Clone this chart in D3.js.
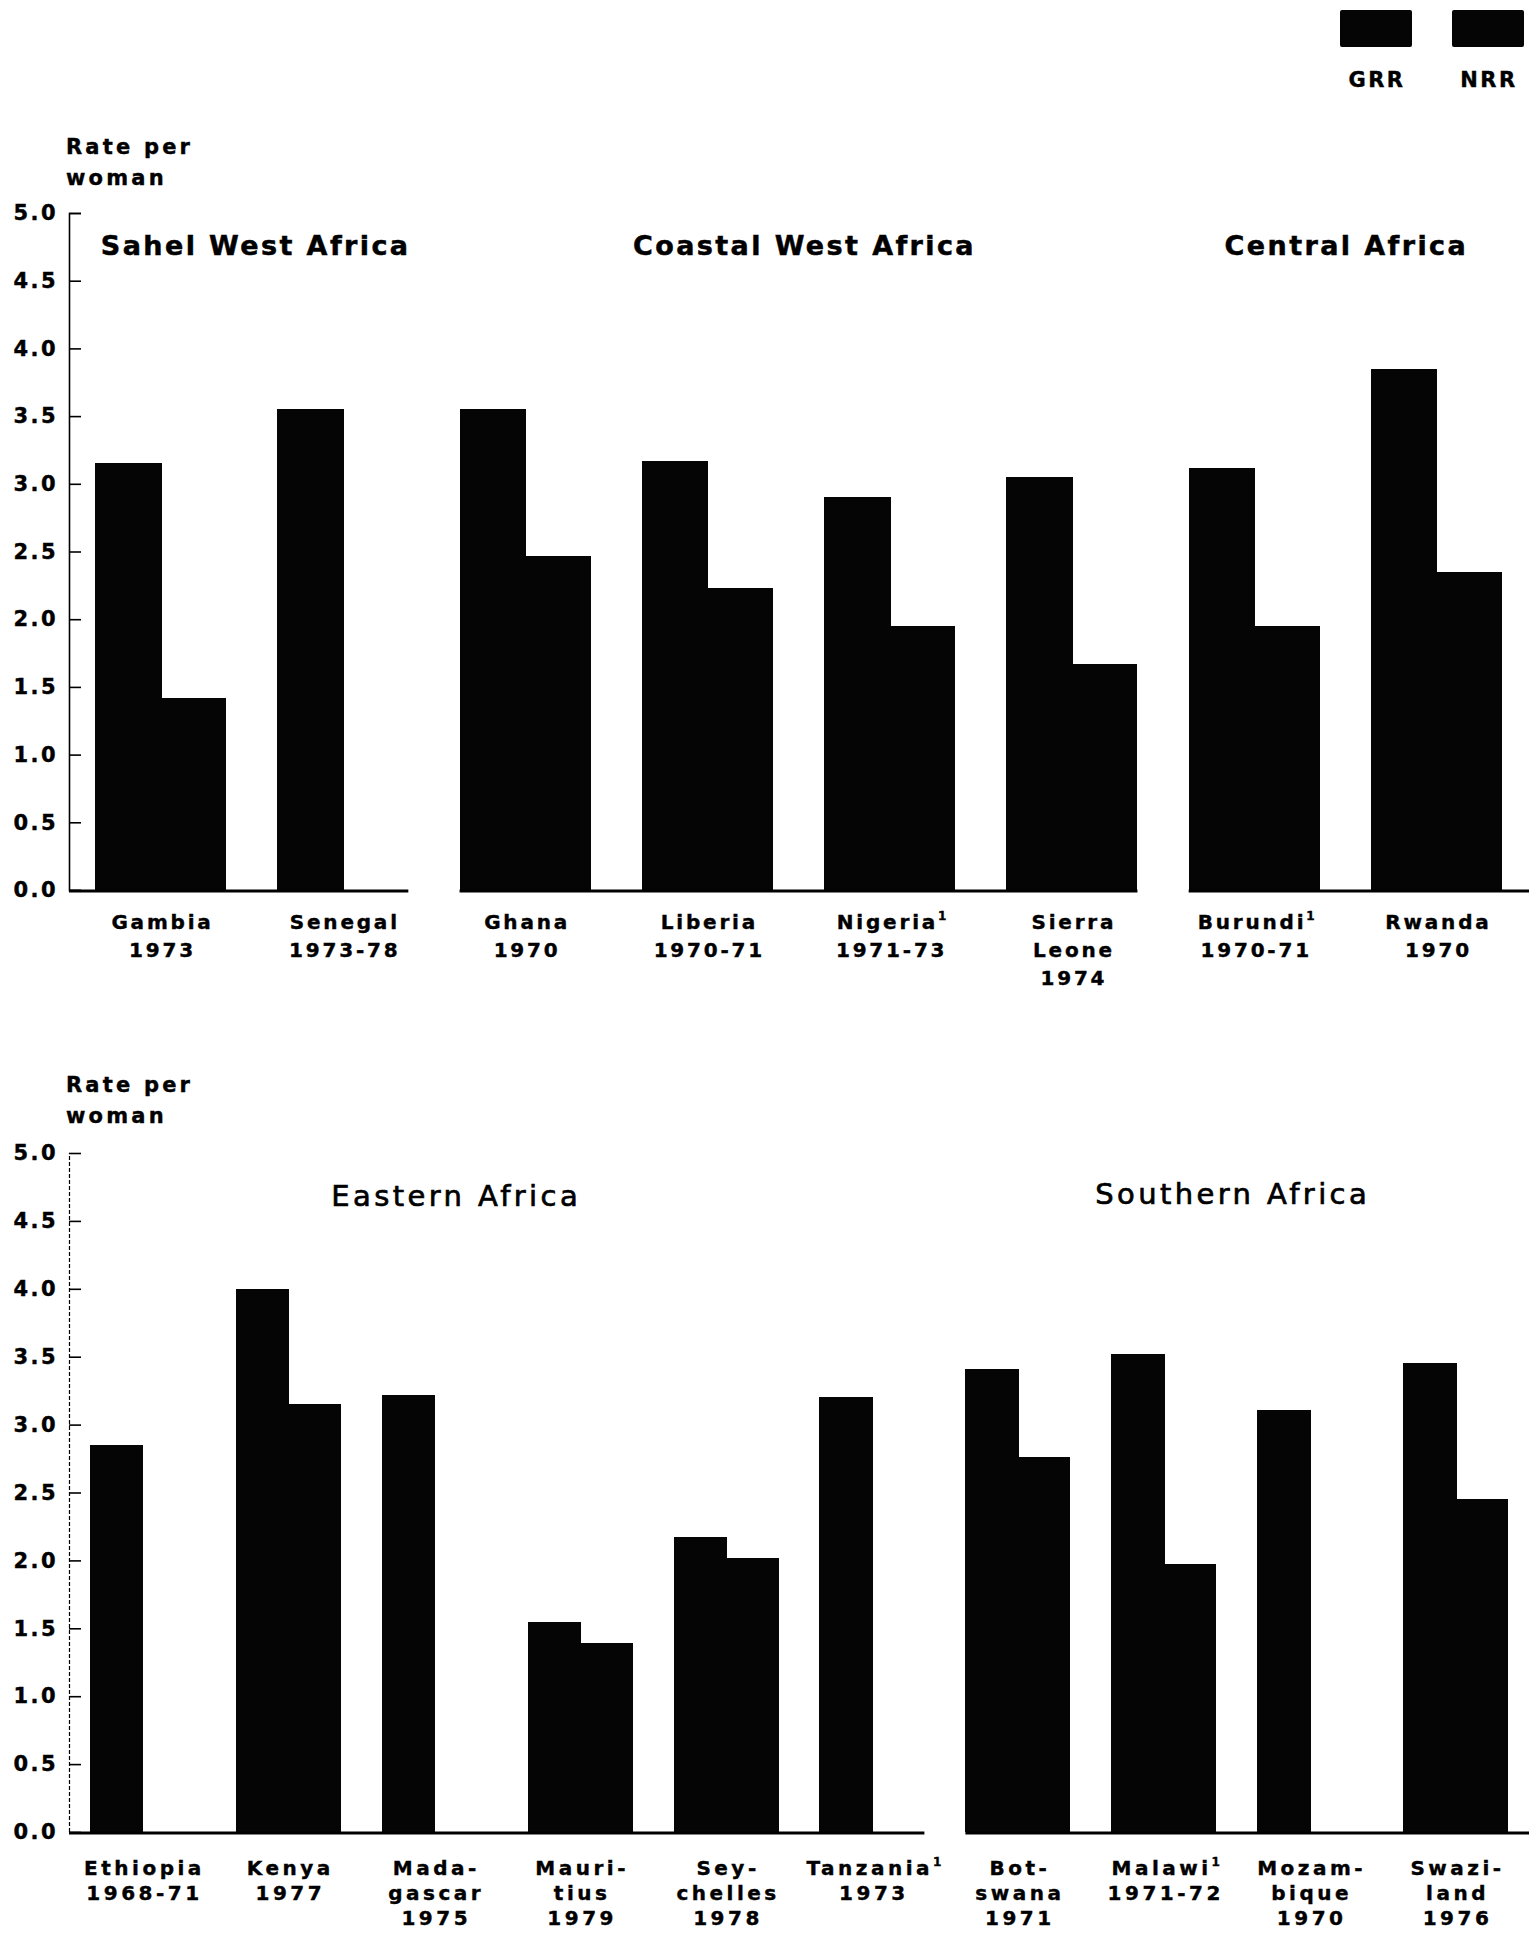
<!DOCTYPE html>
<html>
<head>
<meta charset="utf-8">
<script src="https://cdn.jsdelivr.net/npm/d3@7"></script>
<style>
  html, body { margin: 0; padding: 0; background: #fff; }
  svg { display: block; }
  text { font-family: "DejaVu Sans", "Liberation Sans", sans-serif; fill: #000; }
</style>
</head>
<body>
<svg id="chart" width="1531" height="1933"></svg>
<script>
// Gross (GRR) and net (NRR) reproduction rates, rate per woman

// ---- upper panel: West and Central Africa ----
const topCountries = ["Gambia", "Senegal", "Ghana", "Liberia", "Nigeria", "Sierra Leone", "Burundi", "Rwanda"];
const topLabels = [
  ["Gambia", "1973"], ["Senegal", "1973-78"], ["Ghana", "1970"], ["Liberia", "1970-71"],
  ["Nigeria¹", "1971-73"], ["Sierra", "Leone", "1974"], ["Burundi¹", "1970-71"], ["Rwanda", "1970"]
];
const topGRR = [3.15, 3.55, 3.55, 3.17, 2.90, 3.05, 3.12, 3.85];
const topNRR = [1.42, 0.00, 2.47, 2.23, 1.95, 1.67, 1.95, 2.35];
const topRegions = ["Sahel West Africa", "Coastal West Africa", "Central Africa"];
const topRegionMembers = [
  ["Gambia", "Senegal"],
  ["Ghana", "Liberia", "Nigeria", "Sierra Leone"],
  ["Burundi", "Rwanda"]
];

// ---- lower panel: Eastern and Southern Africa ----
const bottomCountries = ["Ethiopia", "Kenya", "Madagascar", "Mauritius", "Seychelles", "Tanzania",
                         "Botswana", "Malawi", "Mozambique", "Swaziland"];
const bottomLabels = [
  ["Ethiopia", "1968-71"], ["Kenya", "1977"], ["Mada-", "gascar", "1975"], ["Mauri-", "tius", "1979"],
  ["Sey-", "chelles", "1978"], ["Tanzania¹", "1973"], ["Bot-", "swana", "1971"], ["Malawi¹", "1971-72"],
  ["Mozam-", "bique", "1970"], ["Swazi-", "land", "1976"]
];
const bottomGRR = [2.85, 4.00, 3.22, 1.55, 2.17, 3.20, 3.41, 3.52, 3.11, 3.45];
const bottomNRR = [0.00, 3.15, 0.00, 1.39, 2.02, 0.00, 2.76, 1.97, 0.00, 2.45];
const bottomRegions = ["Eastern Africa", "Southern Africa"];
const bottomRegionMembers = [
  ["Ethiopia", "Kenya", "Madagascar", "Mauritius", "Seychelles", "Tanzania"],
  ["Botswana", "Malawi", "Mozambique", "Swaziland"]
];

const seriesKeys = ["GRR", "NRR"];
const yTicks = [0, 0.5, 1, 1.5, 2, 2.5, 3, 3.5, 4, 4.5, 5];
const yAxisTitle = ["Rate per", "woman"];

const svg = d3.select("#chart");

function drawPanel(cfg) {
  const g = svg.append("g");
  const y = d3.scaleLinear().domain([0, 5]).range([cfg.y0, cfg.y5]);
  const x = d3.scaleBand().domain(cfg.countries).range(cfg.xRange)
    .paddingInner(0.281).paddingOuter(0);
  const xs = d3.scaleBand().domain(seriesKeys).range([0, x.bandwidth()]).padding(0);

  // y-axis title
  g.append("g").selectAll("text").data(yAxisTitle).join("text")
    .attr("x", 66).attr("y", (d, i) => cfg.titleY + i * 31)
    .attr("font-size", 21).attr("font-weight", "bold").attr("letter-spacing", 3.2)
    .attr("stroke", "#000").attr("stroke-width", 0.4)
    .text(d => d);

  // y axis with inward ticks
  const axis = g.append("g").attr("transform", `translate(${cfg.axisX},0)`)
    .call(d3.axisLeft(y).tickValues(yTicks).tickSize(-12).tickPadding(11)
      .tickFormat(d3.format(".1f")));
  axis.select(".domain").attr("stroke", "#000").attr("stroke-width", cfg.axisWidth)
    .attr("stroke-dasharray", cfg.axisDash);
  axis.selectAll(".tick line").attr("stroke", "#000").attr("stroke-width", 1.6);
  axis.selectAll(".tick text")
    .attr("font-family", "DejaVu Sans, sans-serif")
    .attr("font-size", 21).attr("font-weight", "bold").attr("letter-spacing", 2.4)
    .attr("stroke", "#000").attr("stroke-width", 0.4)
    .attr("fill", "#000");

  // bars
  const rows = cfg.countries.map((c, i) => ({ c, GRR: cfg.grr[i], NRR: cfg.nrr[i] }));
  g.append("g").attr("shape-rendering", "crispEdges")
    .selectAll("g").data(rows).join("g")
    .attr("transform", d => `translate(${x(d.c)},0)`)
    .selectAll("rect")
    .data(d => seriesKeys.map(k => ({ k, v: d[k] })).filter(e => e.v > 0))
    .join("rect")
    .attr("x", d => xs(d.k)).attr("width", d => xs.bandwidth() + (d.k === "GRR" ? 1 : 0))
    .attr("y", d => y(d.v)).attr("height", d => y(0) - y(d.v))
    .attr("fill", "#050505");

  // baseline segments, broken between regions
  const segs = cfg.members.map((m, i) => {
    const first = m[0], last = m[m.length - 1];
    let x1 = x(first), x2 = x(last) + x.bandwidth();
    if (i === 0) x1 = cfg.axisX;
    if (i === cfg.members.length - 1) x2 = 1529;
    return [x1, x2];
  });
  g.append("g").selectAll("line").data(segs).join("line")
    .attr("x1", d => d[0]).attr("x2", d => d[1])
    .attr("y1", y(0) + 1).attr("y2", y(0) + 1)
    .attr("stroke", "#000").attr("stroke-width", 3);

  // region titles
  g.append("g").selectAll("text").data(cfg.regions).join("text")
    .attr("x", (d, i) => {
      const m = cfg.members[i];
      return (x(m[0]) + x(m[m.length - 1]) + x.bandwidth()) / 2 + cfg.regionDx[i];
    })
    .attr("y", (d, i) => cfg.regionY[i])
    .attr("text-anchor", "middle")
    .attr("font-size", cfg.regionSize).attr("font-weight", cfg.regionWeight)
    .attr("letter-spacing", cfg.regionSpacing)
    .attr("stroke", "#000").attr("stroke-width", cfg.regionStroke)
    .text(d => d);

  // country labels
  const lab = g.append("g").selectAll("text").data(cfg.countries).join("text")
    .attr("x", d => x(d) + x.bandwidth() / 2 + 2)
    .attr("text-anchor", "middle")
    .attr("font-size", 20).attr("font-weight", "bold").attr("letter-spacing", cfg.labelSpacing)
    .attr("stroke", "#000").attr("stroke-width", 0.4);
  lab.each(function (d, i) {
    const t = d3.select(this);
    cfg.labels[i].forEach((line, j) => {
      const sup = line.endsWith("¹");
      t.append("tspan").attr("x", x(d) + x.bandwidth() / 2 + 2)
        .attr("y", cfg.labelY + j * cfg.labelGap).text(sup ? line.slice(0, -1) : line);
      if (sup) {
        t.append("tspan").attr("dy", -9).attr("font-size", 12).attr("letter-spacing", 0).text("1");
      }
    });
  });
}

drawPanel({
  countries: topCountries, labels: topLabels, grr: topGRR, nrr: topNRR,
  regions: topRegions, members: topRegionMembers,
  y0: 890, y5: 213, xRange: [95, 1502], axisX: 69, axisWidth: 1.6, axisDash: null,
  titleY: 154, regionY: [255, 255, 255], regionDx: [4, 6, 1],
  regionSize: 27, regionWeight: "bold", regionSpacing: 2.4, regionStroke: 0.5,
  labelY: 929, labelGap: 28, labelSpacing: 2.8
});

drawPanel({
  countries: bottomCountries, labels: bottomLabels, grr: bottomGRR, nrr: bottomNRR,
  regions: bottomRegions, members: bottomRegionMembers,
  y0: 1832, y5: 1153, xRange: [90, 1508], axisX: 69, axisWidth: 1.2, axisDash: "4,2",
  titleY: 1092, regionY: [1206, 1204], regionDx: [-51, -4],
  regionSize: 29, regionWeight: "normal", regionSpacing: 3.4, regionStroke: 0.7,
  labelY: 1875, labelGap: 25, labelSpacing: 3.5
});

// legend
const legendItems = [{ key: "GRR", x: 1340 }, { key: "NRR", x: 1452 }];
const legend = svg.append("g");
legend.selectAll("rect").data(legendItems).join("rect")
  .attr("x", d => d.x).attr("y", 10).attr("width", 72).attr("height", 37)
  .attr("rx", 2).attr("fill", "#050505");
legend.selectAll("text").data(legendItems).join("text")
  .attr("x", d => d.x + 37).attr("y", 87).attr("text-anchor", "middle")
  .attr("font-size", 21).attr("font-weight", "bold").attr("letter-spacing", 2.5)
  .attr("stroke", "#000").attr("stroke-width", 0.4)
  .text(d => d.key);
</script>
</body>
</html>
